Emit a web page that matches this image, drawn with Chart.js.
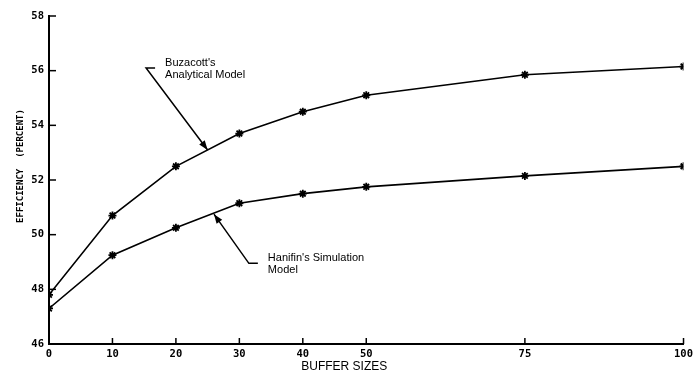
<!DOCTYPE html>
<html>
<head>
<meta charset="utf-8">
<script src="https://cdn.jsdelivr.net/npm/chart.js@4/dist/chart.umd.min.js"></script>
<style>
  html,body{margin:0;padding:0;background:#fff;}
  #wrap{width:697px;height:374px;position:relative;}
</style>
</head>
<body>
<div id="wrap"><canvas id="chart"></canvas></div>
<script>
// data
const bufferSizes = [0, 10, 20, 30, 40, 50, 75, 100];
const buzacott = [47.8, 50.7, 52.5, 53.7, 54.5, 55.1, 55.85, 56.15];
const hanifin  = [47.3, 49.25, 50.25, 51.15, 51.5, 51.75, 52.15, 52.5];
const xTicks = [0, 10, 20, 30, 40, 50, 75, 100];
const yTicks = [46, 48, 50, 52, 54, 56, 58];

// callouts, in data units: arrow tip, elbow, text lines
const notes = [
  {tip:[25, 53.1], elbow:[15.3, 56.1], lines:["Buzacott's", 'Analytical Model']},
  {tip:[26, 50.75], elbow:[31.5, 48.95], lines:["Hanifin's Simulation", 'Model']}
];

const tickFont = {family:'"DejaVu Sans Mono", monospace', size:10.5, weight:'bold'};

const extras = {
  id:'extras',
  afterDraw(chart){
    const {ctx, chartArea:a, scales:{x, y}} = chart;
    ctx.save();
    ctx.strokeStyle = '#000'; ctx.fillStyle = '#000'; ctx.lineWidth = 1.5;
    // inward tick marks
    yTicks.forEach(v => {
      const py = y.getPixelForValue(v);
      ctx.beginPath(); ctx.moveTo(a.left, py); ctx.lineTo(a.left + 7, py); ctx.stroke();
    });
    xTicks.forEach(v => {
      const px = x.getPixelForValue(v);
      ctx.beginPath(); ctx.moveTo(px, a.bottom); ctx.lineTo(px, a.bottom - 6); ctx.stroke();
    });
    // callouts
    notes.forEach(n => {
      const tx = x.getPixelForValue(n.tip[0]), ty = y.getPixelForValue(n.tip[1]);
      const ex = x.getPixelForValue(n.elbow[0]), ey = y.getPixelForValue(n.elbow[1]);
      ctx.lineWidth = 1.5;
      ctx.beginPath(); ctx.moveTo(ex + 9, ey); ctx.lineTo(ex, ey); ctx.lineTo(tx, ty); ctx.stroke();
      const ang = Math.atan2(ty - ey, tx - ex);
      ctx.beginPath();
      ctx.moveTo(tx, ty);
      ctx.lineTo(tx - 10*Math.cos(ang - 0.35), ty - 10*Math.sin(ang - 0.35));
      ctx.lineTo(tx - 10*Math.cos(ang + 0.35), ty - 10*Math.sin(ang + 0.35));
      ctx.closePath(); ctx.fill();
      ctx.font = '11px "Liberation Sans", Arial, sans-serif';
      ctx.textBaseline = 'middle'; ctx.textAlign = 'left';
      n.lines.forEach((t, i) => ctx.fillText(t, ex + 19, ey - 5 + i*12));
    });
    // axis titles
    ctx.font = '12px "Liberation Sans", Arial, sans-serif';
    ctx.textAlign = 'center'; ctx.textBaseline = 'middle';
    ctx.fillText('BUFFER SIZES', (a.left + a.right)/2 - 22, 367);
    ctx.translate(21, 166);
    ctx.rotate(-Math.PI/2);
    ctx.font = 'bold 9px "DejaVu Sans Mono", monospace';
    ctx.fillText('EFFICIENCY  (PERCENT)', 0, 0);
    ctx.restore();
  }
};

const lineStyle = {
  borderColor:'#000', borderWidth:1.6, tension:0,
  pointStyle:'star', pointRadius:4, pointBorderWidth:1.8,
  pointBorderColor:'#000', pointBackgroundColor:'#000'
};

new Chart(document.getElementById('chart').getContext('2d'), {
  type:'line',
  data:{
    datasets:[
      {label:"Buzacott's Analytical Model", data:bufferSizes.map((b,i)=>({x:b, y:buzacott[i]})), ...lineStyle},
      {label:"Hanifin's Simulation Model", data:bufferSizes.map((b,i)=>({x:b, y:hanifin[i]})), ...lineStyle}
    ]
  },
  options:{
    responsive:true, maintainAspectRatio:false, animation:false,
    layout:{padding:{left:0, right:9, top:16, bottom:0}},
    plugins:{legend:{display:false}, tooltip:{enabled:false}},
    scales:{
      x:{
        type:'linear', min:0, max:100,
        afterBuildTicks: s => { s.ticks = xTicks.map(v => ({value:v})); },
        afterFit: s => { s.height = 30; },
        grid:{display:false, drawTicks:false},
        border:{display:true, color:'#000', width:2},
        ticks:{color:'#000', font:tickFont, padding:4, maxRotation:0, autoSkip:false}
      },
      y:{
        min:46, max:58,
        afterBuildTicks: s => { s.ticks = yTicks.map(v => ({value:v})); },
        afterFit: s => { s.width = 49; },
        grid:{display:false, drawTicks:false},
        border:{display:true, color:'#000', width:2},
        ticks:{color:'#000', font:tickFont, padding:5}
      }
    }
  },
  plugins:[extras]
});
</script>
</body>
</html>
